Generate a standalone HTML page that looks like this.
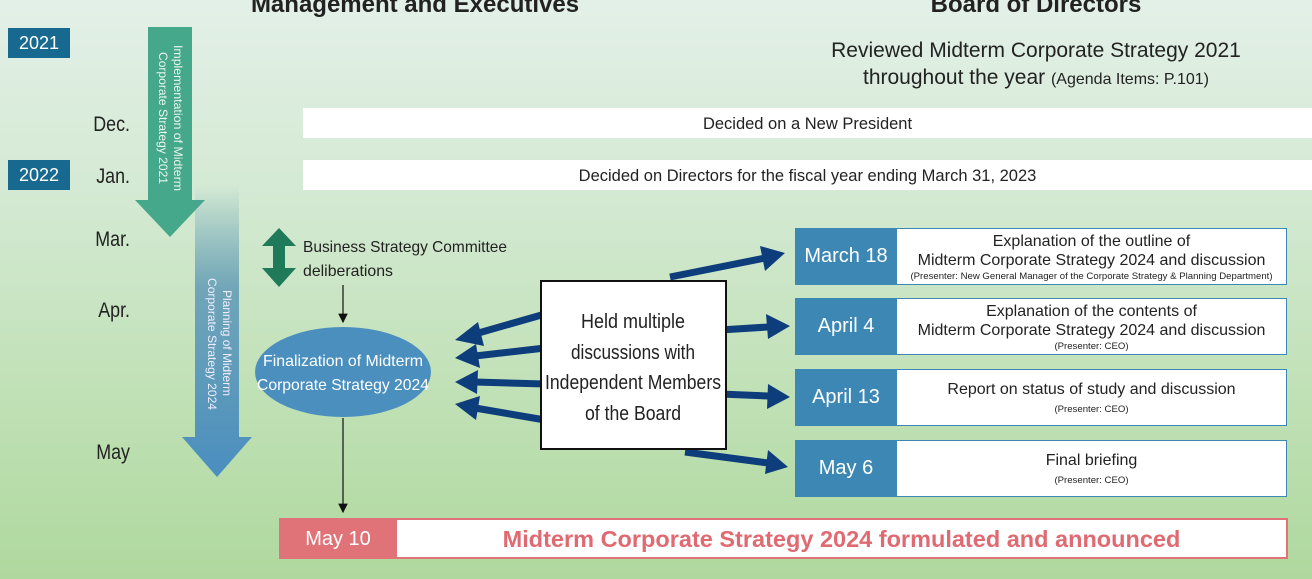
<!DOCTYPE html>
<html><head><meta charset="utf-8"><style>
*{margin:0;padding:0;box-sizing:border-box}
body{width:1312px;height:579px;overflow:hidden;position:relative;font-family:"Liberation Sans",sans-serif;color:#222;
background:linear-gradient(180deg,#e3f0e8 0%,#d3e9d2 35%,#bfe0b4 70%,#afd89e 100%)}
.a{position:absolute}
.yr{background:#17698f;color:#fff;font-size:18px;text-align:center;line-height:30px;width:62px;height:30px;left:8px}
.mo{font-size:21px;width:80px;text-align:right;left:50px;transform:scaleX(.85);transform-origin:right center}
.wb{background:#fff;left:303px;width:1009px;height:30px;line-height:32px;text-align:center;font-size:16.5px}
.lb{background:#3d87b5;color:#fff;left:795px;width:102px;height:57px;line-height:57px;text-align:center;font-size:20px}
.rb{background:#fff;left:897px;width:390px;height:57px;border:1px solid #3d87b5;border-left:none;text-align:center;font-size:16px;line-height:19px;padding-top:3px}
.rb small{font-size:9.6px;display:block;line-height:13px}
</style></head><body>
<div class="a" style="left:165px;top:-9px;width:500px;text-align:center;font-weight:bold;font-size:24px">Management and Executives</div>
<div class="a" style="left:786px;top:-9px;width:500px;text-align:center;font-weight:bold;font-size:24px">Board of Directors</div>
<div class="a yr" style="top:28px">2021</div>
<div class="a yr" style="top:160px">2022</div>
<div class="a mo" style="top:113px">Dec.</div>
<div class="a mo" style="top:165px">Jan.</div>
<div class="a mo" style="top:228px">Mar.</div>
<div class="a mo" style="top:299px">Apr.</div>
<div class="a mo" style="top:441px">May</div>
<div class="a" style="left:736px;top:37px;width:600px;text-align:center;font-size:21px;line-height:27px">Reviewed Midterm Corporate Strategy 2021<br>throughout the year <span style="font-size:16px">(Agenda Items: P.101)</span></div>
<div class="a wb" style="top:108px">Decided on a New President</div>
<div class="a wb" style="top:160px">Decided on Directors for the fiscal year ending March 31, 2023</div>
<svg class="a" style="left:0;top:0" width="1312" height="579">
<defs><linearGradient id="bg" x1="0" y1="0" x2="0" y2="1"><stop offset="0" stop-color="#4d8fb5" stop-opacity="0"/><stop offset="0.35" stop-color="#5b96b5" stop-opacity="0.8"/><stop offset="1" stop-color="#4a8ec0"/></linearGradient>
<marker id="m" markerWidth="8" markerHeight="8" refX="7" refY="4" orient="auto"><path d="M0,0L8,4L0,8z" fill="#111"/></marker></defs>
<path d="M148,27H192V200H205L170,237L135,200H148Z" fill="#46a88a"/>
<path d="M195,185H239V437H252L217,477L182,437H195Z" fill="url(#bg)"/>
<text x="0" y="0" transform="translate(174,45) rotate(90)" fill="#e8f6f0" font-size="12" textLength="146" lengthAdjust="spacingAndGlyphs">Implementation of Midterm</text>
<text x="0" y="0" transform="translate(159,52) rotate(90)" fill="#e8f6f0" font-size="12" textLength="132" lengthAdjust="spacingAndGlyphs">Corporate Strategy 2021</text>
<text x="0" y="0" transform="translate(223,290) rotate(90)" fill="#eef" font-size="12" textLength="106" lengthAdjust="spacingAndGlyphs">Planning of Midterm</text>
<text x="0" y="0" transform="translate(208,278) rotate(90)" fill="#eef" font-size="12" textLength="132" lengthAdjust="spacingAndGlyphs">Corporate Strategy 2024</text>
<path d="M279,228L296,246H285V268H296L279,287L262,268H273V246H262Z" fill="#1f7a5a"/>
<line x1="343" y1="285" x2="343" y2="322" stroke="#111" stroke-width="1.2" marker-end="url(#m)"/>
<line x1="343" y1="418" x2="343" y2="512" stroke="#111" stroke-width="1.2" marker-end="url(#m)"/>
<ellipse cx="343" cy="372" rx="88" ry="45" fill="#4b8fbf"/>
<text x="343" y="366" text-anchor="middle" fill="#fff" font-size="16" textLength="160" lengthAdjust="spacingAndGlyphs">Finalization of Midterm</text>
<text x="343" y="390" text-anchor="middle" fill="#fff" font-size="16" textLength="172" lengthAdjust="spacingAndGlyphs">Corporate Strategy 2024</text>
<text x="303" y="252" font-size="16" fill="#222" textLength="204" lengthAdjust="spacingAndGlyphs">Business Strategy Committee</text>
<text x="303" y="276" font-size="16" fill="#222" textLength="90" lengthAdjust="spacingAndGlyphs">deliberations</text>
<g stroke="#0d3d7a" stroke-width="7" fill="#0d3d7a">
<line x1="545" y1="314" x2="475" y2="334"/><path d="M455,340L478,322L484,346Z" stroke="none"/>
<line x1="545" y1="348" x2="475" y2="356"/><path d="M455,358L476,344L480,368Z" stroke="none"/>
<line x1="545" y1="384" x2="475" y2="382"/><path d="M455,382L478,370L477,394Z" stroke="none"/>
<line x1="545" y1="420" x2="475" y2="408"/><path d="M455,404L480,396L476,420Z" stroke="none"/>
<line x1="670" y1="277" x2="765" y2="258"/><path d="M785,253L760,246L765,271Z" stroke="none"/>
<line x1="720" y1="330" x2="768" y2="327"/><path d="M790,326L766,314L768,339Z" stroke="none"/>
<line x1="720" y1="394" x2="768" y2="396"/><path d="M790,397L768,384L767,409Z" stroke="none"/>
<line x1="685" y1="452" x2="768" y2="463"/><path d="M788,467L768,450L765,474Z" stroke="none"/>
</g>
<rect x="541" y="281" width="185" height="168" fill="#fff" stroke="#111" stroke-width="2"/>
<g font-size="20" fill="#222" text-anchor="middle">
<text x="633" y="328" textLength="104" lengthAdjust="spacingAndGlyphs">Held multiple</text>
<text x="633" y="359" textLength="124" lengthAdjust="spacingAndGlyphs">discussions with</text>
<text x="633" y="389" textLength="176" lengthAdjust="spacingAndGlyphs">Independent Members</text>
<text x="633" y="420" textLength="96" lengthAdjust="spacingAndGlyphs">of the Board</text>
</g>
</svg>
<div class="a lb" style="top:228px">March 18</div>
<div class="a rb" style="top:228px">Explanation of the outline of<br>Midterm Corporate Strategy 2024 and discussion<small>(Presenter: New General Manager of the Corporate Strategy &amp; Planning Department)</small></div>
<div class="a lb" style="top:298px">April 4</div>
<div class="a rb" style="top:298px">Explanation of the contents of<br>Midterm Corporate Strategy 2024 and discussion<small>(Presenter: CEO)</small></div>
<div class="a lb" style="top:369px">April 13</div>
<div class="a rb" style="top:369px;padding-top:10px">Report on status of study and discussion<small style="margin-top:4px">(Presenter: CEO)</small></div>
<div class="a lb" style="top:440px">May 6</div>
<div class="a rb" style="top:440px;padding-top:10px">Final briefing<small style="margin-top:4px">(Presenter: CEO)</small></div>
<div class="a" style="left:279px;top:518px;width:118px;height:41px;background:#e07378;color:#fff;font-size:20px;line-height:43px;text-align:center">May 10</div>
<div class="a" style="left:397px;top:518px;width:891px;height:41px;background:#fff;border:2px solid #e07378;border-left:none;color:#e06a72;font-weight:bold;font-size:23.5px;line-height:39px;text-align:center">Midterm Corporate Strategy 2024 formulated and announced</div>
</body></html>
